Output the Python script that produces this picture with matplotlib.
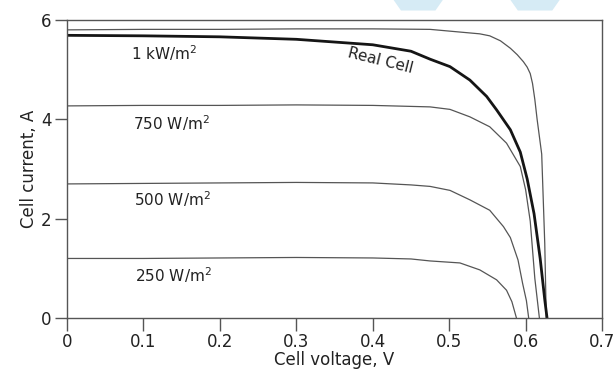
import matplotlib.pyplot as plt
from matplotlib.patches import Polygon

# I-V curves (voltage V, current A)
v_1kw = [0.0, 0.1, 0.2, 0.3, 0.4, 0.475, 0.54, 0.553, 0.567, 0.58, 0.589, 0.597,
         0.602, 0.606, 0.609, 0.612, 0.615, 0.618, 0.621, 0.623, 0.625, 0.627]
i_1kw = [5.80, 5.81, 5.81, 5.82, 5.82, 5.81, 5.72, 5.68, 5.58, 5.43, 5.30, 5.16,
         5.05, 4.92, 4.72, 4.40, 4.00, 3.65, 3.30, 2.40, 1.50, 0.0]

v_real = [0.0, 0.1, 0.2, 0.3, 0.4, 0.45, 0.475, 0.501, 0.527, 0.549, 0.562,
          0.58, 0.593, 0.602, 0.611, 0.619, 0.625, 0.628]
i_real = [5.69, 5.68, 5.66, 5.61, 5.50, 5.37, 5.21, 5.06, 4.79, 4.46, 4.19,
          3.79, 3.34, 2.80, 2.10, 1.20, 0.37, 0.0]

v_750 = [0.0, 0.1, 0.2, 0.3, 0.4, 0.45, 0.475, 0.501, 0.527, 0.553, 0.575,
         0.593, 0.600, 0.606, 0.612, 0.618]
i_750 = [4.27, 4.28, 4.28, 4.29, 4.28, 4.26, 4.25, 4.20, 4.05, 3.85, 3.52,
         3.05, 2.58, 1.95, 0.80, 0.0]

v_500 = [0.0, 0.1, 0.2, 0.3, 0.4, 0.45, 0.475, 0.501, 0.527, 0.553, 0.571,
         0.580, 0.590, 0.596, 0.601, 0.604]
i_500 = [2.70, 2.71, 2.72, 2.73, 2.72, 2.68, 2.65, 2.57, 2.38, 2.17, 1.84,
         1.62, 1.17, 0.70, 0.35, 0.0]

v_250 = [0.0, 0.1, 0.2, 0.3, 0.4, 0.45, 0.475, 0.514, 0.54, 0.562, 0.575, 0.582, 0.588]
i_250 = [1.20, 1.20, 1.21, 1.22, 1.21, 1.19, 1.15, 1.11, 0.97, 0.77, 0.56, 0.33, 0.0]

labels = ["1 kW/m$^2$", "750 W/m$^2$", "500 W/m$^2$", "250 W/m$^2$"]
label_x = [0.084, 0.086, 0.088, 0.089]
label_y = [5.33, 3.93, 2.40, 0.87]

x_ticks = [0, 0.1, 0.2, 0.3, 0.4, 0.5, 0.6, 0.7]
x_ticklabels = ["0", "0.1", "0.2", "0.3", "0.4", "0.5", "0.6", "0.7"]
y_ticks = [0, 2, 4, 6]

fig = plt.figure(figsize=(6.15, 3.76), dpi=100)
ax = fig.add_axes([0.109, 0.154, 0.870, 0.793])

thin = "#555555"
for v, i in [(v_1kw, i_1kw), (v_750, i_750), (v_500, i_500), (v_250, i_250)]:
    ax.plot(v, i, color=thin, linewidth=0.9, solid_joinstyle="round")
ax.plot(v_real, i_real, color="#151515", linewidth=2.0, solid_joinstyle="round")

for txt, x, y in zip(labels, label_x, label_y):
    ax.text(x, y, txt, fontsize=11, va="center", ha="left", color="#222222")
ax.text(0.41, 5.17, "Real Cell", fontsize=11, va="center", ha="center",
        rotation=-14, color="#222222")

ax.set_xlim(0, 0.7)
ax.set_ylim(0, 6)
ax.set_xticks(x_ticks)
ax.set_xticklabels(x_ticklabels)
ax.set_yticks(y_ticks)
ax.tick_params(direction="out", length=9, width=1.0, color=thin,
               labelsize=12, labelcolor="#222222", pad=2)
for s in ax.spines.values():
    s.set_color(thin)
    s.set_linewidth(1.0)
ax.set_xlabel("Cell voltage, V", fontsize=12, color="#222222", labelpad=0)
ax.set_ylabel("Cell current, A", fontsize=12, color="#222222", labelpad=2)

# faint watermark shapes at the top edge
for xs in [(0.64, 0.72), (0.83, 0.91)]:
    fig.patches.append(Polygon([(xs[0], 1.0), (xs[1], 1.0), (xs[1] - 0.012, 0.972), (xs[0] + 0.012, 0.972)],
                               closed=True, transform=fig.transFigure,
                               facecolor="#d6ebf5", edgecolor="none"))

fig.savefig("out.png", dpi=100)
